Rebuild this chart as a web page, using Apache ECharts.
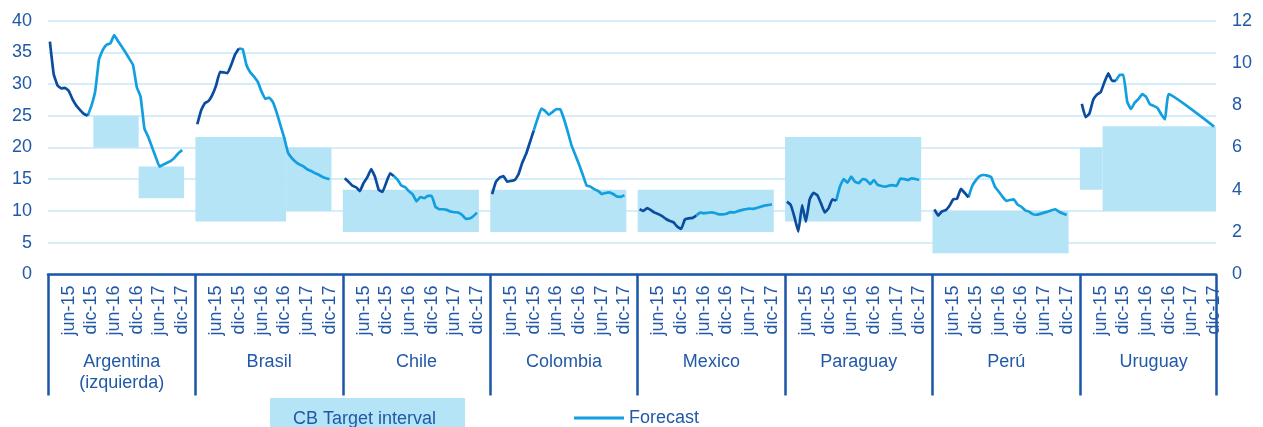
<!DOCTYPE html>
<html>
<head>
<meta charset="utf-8">
<script src="https://cdn.jsdelivr.net/npm/echarts@6/dist/echarts.min.js"></script>
<style>
  html, body { margin: 0; padding: 0; background: #ffffff; }
  #chart { width: 1263px; height: 427px; }
</style>
</head>
<body>
<div id="chart"></div>
<script>
// Monthly inflation, Jan-2015 .. Dec-2017, with central-bank target bands.
const months = ['ene-15','feb-15','mar-15','abr-15','may-15','jun-15','jul-15','ago-15','sep-15','oct-15','nov-15','dic-15',
                'ene-16','feb-16','mar-16','abr-16','may-16','jun-16','jul-16','ago-16','sep-16','oct-16','nov-16','dic-16',
                'ene-17','feb-17','mar-17','abr-17','may-17','jun-17','jul-17','ago-17','sep-17','oct-17','nov-17','dic-17'];
const shownMonths = ['jun-15','dic-15','jun-16','dic-16','jun-17','dic-17'];
const countries = ['Argentina','Brasil','Chile','Colombia','Mexico','Paraguay','Perú','Uruguay'];
const countryLabels = ['Argentina\n(izquierda)','Brasil','Chile','Colombia','Mexico','Paraguay','Perú','Uruguay'];
const leftAxisCountries = ['Argentina'];   // plotted against the 0-40 scale

const _ = null;
const argentinaActual   = [36.7,31.6,29.8,29.3,29.4,28.9,27.6,26.6,25.9,25.3,25.0,_,_,_,_,_,_,_,_,_,_,_,_,_,_,_,_,_,_,_,_,_,_,_,_,_];
const argentinaForecast = [_,_,_,_,_,_,_,_,_,_,25.0,26.6,28.9,33.9,35.4,36.2,36.4,37.7,36.8,35.9,35.0,34.0,33.0,29.5,28.0,23.0,21.7,20.1,18.5,17.0,17.3,17.6,17.9,18.4,19.1,19.6];
const brasilActual      = [7.1,7.75,8.1,8.2,8.5,8.95,9.58,9.55,9.52,9.92,10.4,10.68,_,_,_,_,_,_,_,_,_,_,_,_,_,_,_,_,_,_,_,_,_,_,_,_];
const brasilForecast    = [_,_,_,_,_,_,_,_,_,_,_,10.68,10.65,9.9,9.56,9.35,9.1,8.64,8.3,8.36,8.15,7.65,7.05,6.45,5.75,5.5,5.33,5.2,5.12,4.98,4.9,4.8,4.72,4.62,4.55,4.5];
const chileActual       = [4.55,4.38,4.2,4.12,3.94,4.33,4.6,4.98,4.62,4.0,3.9,4.35,4.78,4.65,_,_,_,_,_,_,_,_,_,_,_,_,_,_,_,_,_,_,_,_,_,_];
const chileForecast     = [_,_,_,_,_,_,_,_,_,_,_,_,_,4.65,4.47,4.2,4.12,3.93,3.78,3.45,3.66,3.6,3.71,3.71,3.2,3.08,3.08,3.05,2.97,2.94,2.93,2.82,2.63,2.64,2.75,2.92];
const colombiaActual    = [3.8,4.38,4.58,4.65,4.38,4.42,4.46,4.75,5.3,5.7,6.25,6.8,_,_,_,_,_,_,_,_,_,_,_,_,_,_,_,_,_,_,_,_,_,_,_,_];
const colombiaForecast  = [_,_,_,_,_,_,_,_,_,_,_,6.8,7.35,7.84,7.73,7.55,7.68,7.82,7.81,7.35,6.75,6.1,5.65,5.2,4.7,4.2,4.15,4.03,3.95,3.8,3.85,3.88,3.8,3.68,3.67,3.75];
const mexicoActual      = [3.08,3.0,3.14,3.04,2.92,2.85,2.75,2.62,2.53,2.46,2.25,2.15,2.6,2.65,2.67,2.78,_,_,_,_,_,_,_,_,_,_,_,_,_,_,_,_,_,_,_,_];
const mexicoForecast    = [_,_,_,_,_,_,_,_,_,_,_,_,_,_,_,2.78,2.92,2.89,2.91,2.93,2.9,2.84,2.84,2.87,2.94,2.93,2.99,3.04,3.08,3.11,3.1,3.14,3.2,3.25,3.28,3.31];
const paraguayActual    = [3.44,3.28,2.7,2.02,3.28,2.49,3.55,3.86,3.75,3.36,2.93,3.12,3.55,3.48,_,_,_,_,_,_,_,_,_,_,_,_,_,_,_,_,_,_,_,_,_,_];
const paraguayForecast  = [_,_,_,_,_,_,_,_,_,_,_,_,_,3.48,4.15,4.51,4.34,4.62,4.38,4.31,4.51,4.46,4.27,4.46,4.23,4.18,4.15,4.2,4.22,4.18,4.53,4.51,4.46,4.54,4.51,4.46];
const peruActual        = [3.08,2.78,2.98,3.04,3.25,3.55,3.58,4.04,3.86,3.64,_,_,_,_,_,_,_,_,_,_,_,_,_,_,_,_,_,_,_,_,_,_,_,_,_,_];
const peruForecast      = [_,_,_,_,_,_,_,_,_,3.64,4.18,4.46,4.65,4.7,4.67,4.6,4.15,3.92,3.68,3.48,3.52,3.55,3.3,3.2,3.03,2.97,2.85,2.82,2.86,2.92,2.97,3.03,3.08,2.96,2.88,2.81];
const uruguayActual     = [8.06,7.43,7.6,8.25,8.5,8.62,9.1,9.51,9.15,9.15,_,_,_,_,_,_,_,_,_,_,_,_,_,_,_,_,_,_,_,_,_,_,_,_,_,_];
const uruguayForecast   = [_,_,_,_,_,_,_,_,_,9.15,9.43,9.43,8.17,7.82,8.12,8.3,8.52,8.4,8.05,7.97,7.87,7.57,7.33,8.52,_,_,_,_,_,_,_,_,_,_,_,6.99];

// Target bands: [first month, last month, lower bound, upper bound]
const argentinaTarget = [[12, 23, 20, 25], [24, 35, 12, 17]];
const brasilTarget    = [[0, 23, 2.5, 6.5], [24, 35, 3, 6]];
const chileTarget     = [[0, 35, 2, 4]];
const colombiaTarget  = [[0, 35, 2, 4]];
const mexicoTarget    = [[0, 35, 2, 4]];
const paraguayTarget  = [[0, 35, 2.5, 6.5]];
const peruTarget      = [[0, 35, 1, 3]];
const uruguayTarget   = [[0, 5, 4, 6], [6, 35, 3, 7]];

const leftTicks  = { min: 0, max: 40, interval: 5 };
const rightTicks = { min: 0, max: 12, interval: 2 };

const actualSets   = [argentinaActual, brasilActual, chileActual, colombiaActual, mexicoActual, paraguayActual, peruActual, uruguayActual];
const forecastSets = [argentinaForecast, brasilForecast, chileForecast, colombiaForecast, mexicoForecast, paraguayForecast, peruForecast, uruguayForecast];
const targetSets   = [argentinaTarget, brasilTarget, chileTarget, colombiaTarget, mexicoTarget, paraguayTarget, peruTarget, uruguayTarget];

// ---- styling ----
const FONT = 'Liberation Sans, Arial, sans-serif';
const TEXT = '#2159a8';
const AXIS = '#1c56a8';
const GRID = '#c9e9f7';
const BAND = '#b5e4f7';
const DARK = '#0b4c9e';
const LIGHT = '#129fdf';
const GAP = 3;                       // empty slots between country panels
const span = months.length + GAP;

// Category slots: each country's months followed by a small gap
const categories = [];
countries.forEach((c, ci) => {
  months.forEach(m => categories.push(c + '|' + m));
  if (ci < countries.length - 1) {
    for (let k = 0; k < GAP; k++) categories.push(c + '|gap' + k);
  }
});

function place(ci, values) {
  const out = new Array(categories.length).fill(null);
  values.forEach((v, i) => { if (v !== null) out[ci * span + i] = v; });
  return out;
}

function axisIndexOf(ci) {
  return leftAxisCountries.includes(countries[ci]) ? 0 : 1;
}

const series = [];

// target bands, one custom series per value axis
[0, 1].forEach(axisIdx => {
  const data = [];
  targetSets.forEach((bands, ci) => {
    if (axisIndexOf(ci) !== axisIdx) return;
    bands.forEach(b => data.push([ci * span + b[0], ci * span + b[1], b[2], b[3]]));
  });
  series.push({
    name: 'CB Target interval',
    type: 'custom',
    xAxisIndex: 0,
    yAxisIndex: axisIdx,
    z: 1,
    silent: true,
    encode: { x: [0, 1], y: [2, 3] },
    data: data,
    renderItem: function (params, api) {
      const start = api.value(0), end = api.value(1);
      const lo = api.value(2), hi = api.value(3);
      const band = api.size([1, 0])[0];
      const a = api.coord([start, hi]);
      const b = api.coord([end, lo]);
      return {
        type: 'rect',
        shape: { x: a[0] - band / 2, y: a[1], width: b[0] - a[0] + band, height: b[1] - a[1] },
        style: { fill: BAND }
      };
    }
  });
});

countries.forEach((c, ci) => {
  const yi = axisIndexOf(ci);
  series.push({
    name: 'Actual', type: 'line', xAxisIndex: 0, yAxisIndex: yi, z: 3,
    data: place(ci, actualSets[ci]), symbol: 'none', smooth: 0.1, silent: true,
    lineStyle: { color: DARK, width: 2.7 }, itemStyle: { color: DARK }
  });
  series.push({
    name: 'Forecast', type: 'line', xAxisIndex: 0, yAxisIndex: yi, z: 2,
    data: place(ci, forecastSets[ci]), symbol: 'none', smooth: 0.1, silent: true,
    connectNulls: true,
    lineStyle: { color: LIGHT, width: 2.7 }, itemStyle: { color: LIGHT }
  });
});

const chart = echarts.init(document.getElementById('chart'), null, { renderer: 'canvas' });
chart.setOption({
  animation: false,
  textStyle: { fontFamily: FONT },
  grid: { left: 48, right: 47, top: 20.6, bottom: 152.6, containLabel: false },
  xAxis: [
    {
      type: 'category', data: categories, boundaryGap: true, position: 'bottom',
      axisLine: { show: true, lineStyle: { color: AXIS, width: 2.5 } },
      axisTick: { show: false },
      splitLine: { show: false },
      axisLabel: {
        interval: (i, v) => shownMonths.includes(v.split('|')[1]),
        formatter: v => v.split('|')[1],
        rotate: 90, margin: 11, fontSize: 18, color: TEXT, fontFamily: FONT
      }
    },
    {
      type: 'category', data: categories, boundaryGap: true, position: 'bottom', offset: 0,
      axisLine: { show: false },
      axisTick: {
        show: true, interval: (i) => i % span === 0, length: 121,
        lineStyle: { color: AXIS, width: 2.5 }
      },
      splitLine: { show: false },
      axisLabel: {
        interval: (i) => i % span === 19,
        formatter: v => countryLabels[countries.indexOf(v.split('|')[0])],
        margin: 77, fontSize: 18, lineHeight: 21, color: TEXT, fontFamily: FONT
      }
    }
  ],
  yAxis: [
    {
      type: 'value', position: 'left', min: leftTicks.min, max: leftTicks.max, interval: leftTicks.interval,
      axisLine: { show: false }, axisTick: { show: false },
      splitLine: { show: true, lineStyle: { color: GRID, width: 1.6 } },
      axisLabel: { margin: 16, fontSize: 18, color: TEXT, fontFamily: FONT }
    },
    {
      type: 'value', position: 'right', min: rightTicks.min, max: rightTicks.max, interval: rightTicks.interval,
      axisLine: { show: false }, axisTick: { show: false },
      splitLine: { show: false },
      axisLabel: { margin: 16, fontSize: 18, color: TEXT, fontFamily: FONT }
    }
  ],
  legend: [
    {
      data: ['CB Target interval'], left: 265, top: 398, padding: 0,
      itemWidth: 0, itemHeight: 0, selectedMode: false,
      textStyle: { fontSize: 18, color: TEXT, fontFamily: FONT, backgroundColor: BAND, padding: [10, 29, 14, 23] }
    },
    {
      data: [{ name: 'Forecast', icon: 'rect' }], left: 574, top: 409, padding: 0,
      itemWidth: 50, itemHeight: 3, selectedMode: false,
      textStyle: { fontSize: 18, color: TEXT, fontFamily: FONT }
    }
  ],
  series: series
});
</script>
</body>
</html>
